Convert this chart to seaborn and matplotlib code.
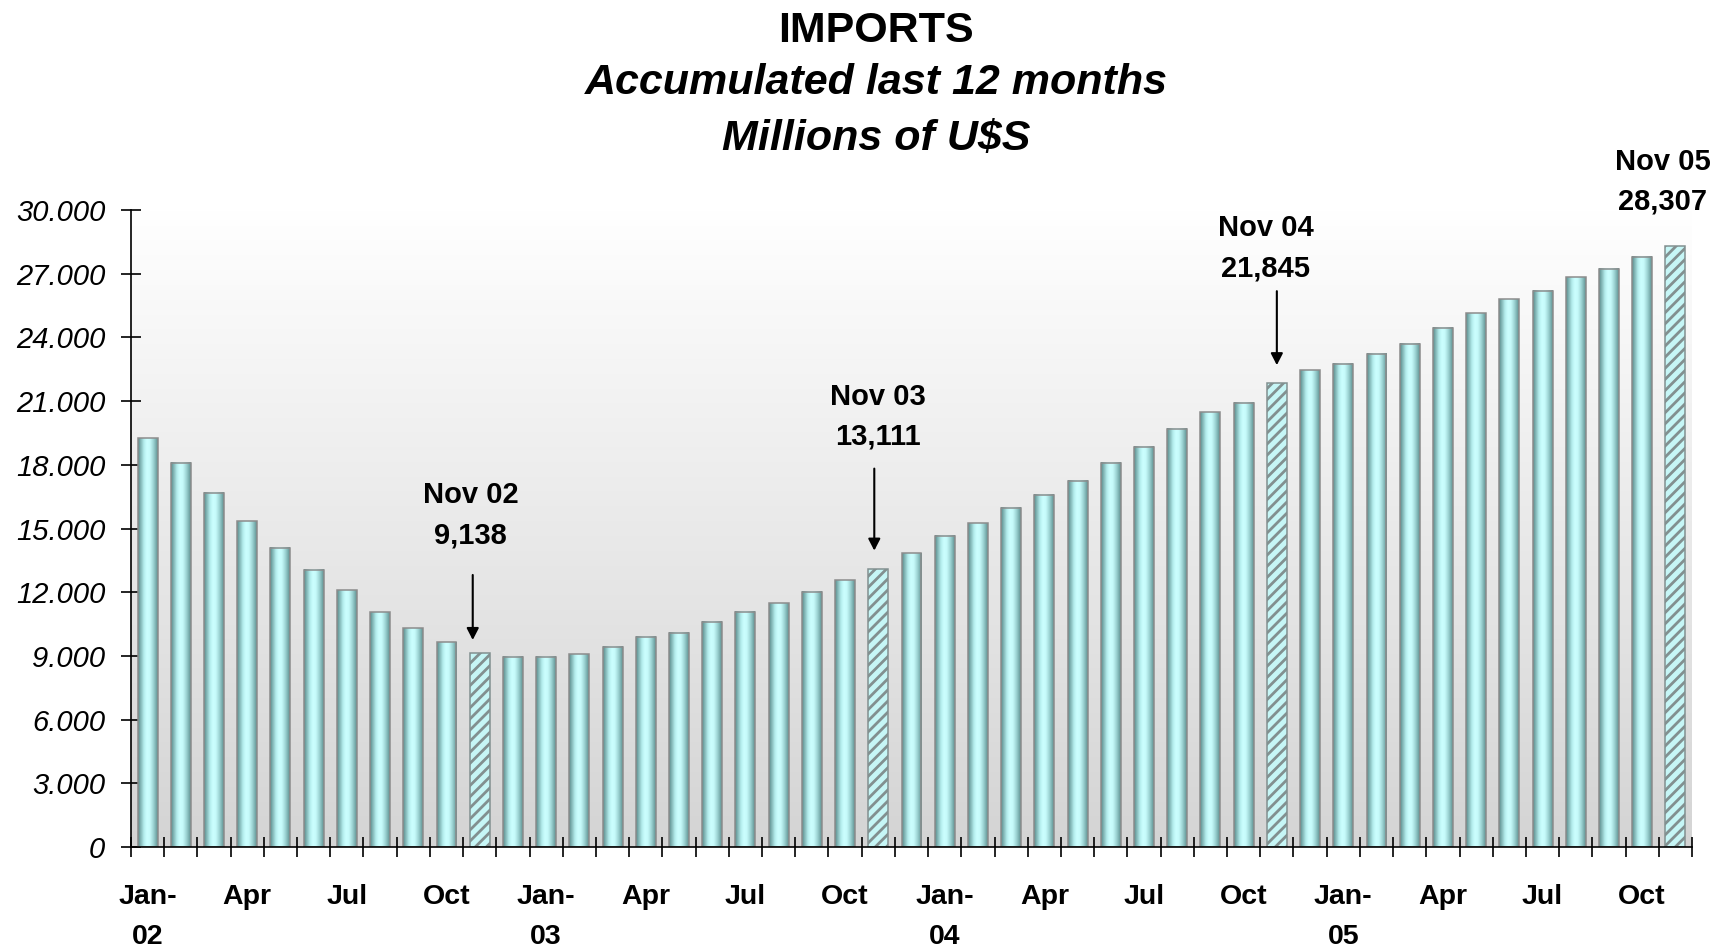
import numpy as np
import pandas as pd
import matplotlib
matplotlib.use("Agg")
import matplotlib.pyplot as plt
import matplotlib.transforms as mtransforms
from matplotlib.colors import LinearSegmentedColormap
import seaborn as sns

# ---- data -----------------------------------------------------------------
years = ["02", "03", "04", "05"]
month_names = ["Jan", "Feb", "Mar", "Apr", "May", "Jun",
               "Jul", "Aug", "Sep", "Oct", "Nov", "Dec"]
periods = [f"{m} {y}" for y in years for m in month_names][:47]

# imports accumulated over the last 12 months, millions of U$S
imports_12m = [
    19250, 18100, 16690, 15350, 14100, 13050, 12100, 11050, 10300, 9650, 9138,
    8960, 8950, 9070, 9430, 9900, 10090, 10600, 11080, 11480, 12020, 12570, 13111,
    13830, 14660, 15250, 15980, 16580, 17240, 18100, 18850, 19690, 20470, 20930, 21845,
    22460, 22750, 23220, 23690, 24460, 25130, 25790, 26190, 26830, 27240, 27800, 28307,
]

highlighted = ["Nov 02", "Nov 03", "Nov 04", "Nov 05"]
tick_months = ["Jan", "Apr", "Jul", "Oct"]
y_ticks = list(range(0, 30001, 3000))

# callout layout in pixels relative to the bar top:
# (text dx, line-1 dy, line-2 dy, arrow dx, arrow start dy, arrow tip dy)
callouts = {
    "Nov 02": (-9, 158, 117, -7, 78, 13),
    "Nov 03": (0, 172, 132, -4, 100, 18),
    "Nov 04": (-11, 155, 115, 0, 92, 18),
    "Nov 05": (-13, 84, 44, None, None, None),
}

# ---- style ----------------------------------------------------------------
sns.set_theme(style="white")
plt.rcParams["font.family"] = ["Liberation Sans", "DejaVu Sans"]
plt.rcParams["text.color"] = "black"
plt.rcParams["xtick.labelcolor"] = "black"
plt.rcParams["ytick.labelcolor"] = "black"
plt.rcParams["hatch.linewidth"] = 2.0

df = pd.DataFrame({"period": periods, "value": imports_12m})

W, H = 1729, 949
fig = plt.figure(figsize=(W / 100, H / 100), dpi=100, facecolor="white")
ax = fig.add_axes([131 / W, 1 - 847 / H, (1692 - 131) / W, (847 - 210) / H])
ax.patch.set_visible(False)

sns.barplot(data=df, x="period", y="value", order=periods, width=0.6,
            color="#c8f4f4", saturation=1, edgecolor="#8c8c8c",
            linewidth=1.1, ax=ax, zorder=3)

# cylinder shading for the bars
cyl = LinearSegmentedColormap.from_list("cyl", [
    (0.00, "#5a8a8a"), (0.12, "#7fb3b3"), (0.30, "#b5eeee"),
    (0.45, "#ccffff"), (0.60, "#c6fafa"), (0.80, "#98cfcf"),
    (1.00, "#5f9191")])
grad = cyl(np.linspace(0, 1, 64))[None, :, :]

for p, name in zip(ax.patches, periods):
    x0, w, h = p.get_x(), p.get_width(), p.get_height()
    if name in highlighted:
        p.set_facecolor("#c6f6f6")
        p.set_edgecolor("#829090")
        p.set_hatch("///")
    else:
        ax.imshow(grad, extent=[x0, x0 + w, 0, h], aspect="auto",
                  interpolation="bicubic", zorder=2.5)
        p.set_facecolor("none")

# plot-area background: white fading to light grey
bg = LinearSegmentedColormap.from_list("bg", ["#d4d4d4", "#ffffff"])
ax.imshow(np.linspace(1, 0, 256)[:, None], cmap=bg, aspect="auto",
          extent=[-0.5, len(periods) - 0.5, 0, 30000], zorder=0)

ax.set_xlim(-0.5, len(periods) - 0.5)
ax.set_ylim(0, 30000)
ax.set_xlabel("")
ax.set_ylabel("")

for side in ["top", "right"]:
    ax.spines[side].set_visible(False)
for side in ["left", "bottom"]:
    ax.spines[side].set_color("black")
    ax.spines[side].set_linewidth(1.2)
    ax.spines[side].set_zorder(4)

# y axis
ax.set_yticks(y_ticks, labels=[f"{v:,}".replace(",", ".") for v in y_ticks],
              fontsize=21, fontstyle="italic", color="black")
ax.tick_params(axis="y", which="major", left=True, direction="inout",
               length=15, width=1.2, color="black", pad=11)

# x axis: labels under the bars, tick marks between them
xt_pos = [i for i, p in enumerate(periods) if p.split()[0] in tick_months]
xt_lab = []
for i in xt_pos:
    m, y = periods[i].split()
    xt_lab.append(f"{m}-\n{y}" if m == "Jan" else m)
ax.set_xticks(xt_pos, labels=xt_lab, fontsize=20.5, fontweight="bold",
              linespacing=1.7, color="black")
ax.set_xticks(np.arange(-0.5, len(periods), 1.0), minor=True)
ax.tick_params(axis="x", which="major", bottom=True, length=0, pad=27)
ax.tick_params(axis="x", which="minor", bottom=True, direction="inout",
               length=15, width=1.2, color="black")

# callouts for the November bars
for name, (tdx, dy1, dy2, adx, a0, a1) in callouts.items():
    i = periods.index(name)
    v = imports_12m[i]
    ax.annotate(name, xy=(i, v), xytext=(tdx, dy1), textcoords="offset pixels",
                ha="center", va="center", fontsize=21, fontweight="bold",
                color="black", annotation_clip=False, zorder=6)
    ax.annotate(f"{v:,}", xy=(i, v), xytext=(tdx, dy2),
                textcoords="offset pixels", ha="center", va="center",
                fontsize=21, fontweight="bold", color="black",
                annotation_clip=False, zorder=6)
    if adx is not None:
        tip = mtransforms.offset_copy(ax.transData, fig=fig, x=adx, y=a1,
                                      units="dots")
        ax.annotate("", xy=(i, v), xycoords=tip, xytext=(0, a0 - a1),
                    textcoords="offset pixels", annotation_clip=False,
                    arrowprops=dict(arrowstyle="-|>,head_length=0.7,head_width=0.36",
                                    mutation_scale=10, lw=1.5, color="black",
                                    shrinkA=0, shrinkB=0), zorder=6)

# title block
tx = 876 / W
fig.text(tx, 1 - 31 / H, "IMPORTS", ha="center", va="center",
         fontsize=31, fontweight="bold", color="black")
fig.text(tx, 1 - 83 / H, "Accumulated last 12 months", ha="center",
         va="center", fontsize=31, fontweight="bold", fontstyle="italic",
         color="black")
fig.text(tx, 1 - 139 / H, "Millions of U$S", ha="center", va="center",
         fontsize=31, fontweight="bold", fontstyle="italic", color="black")

fig.savefig("out.png", dpi=100, facecolor="white")
